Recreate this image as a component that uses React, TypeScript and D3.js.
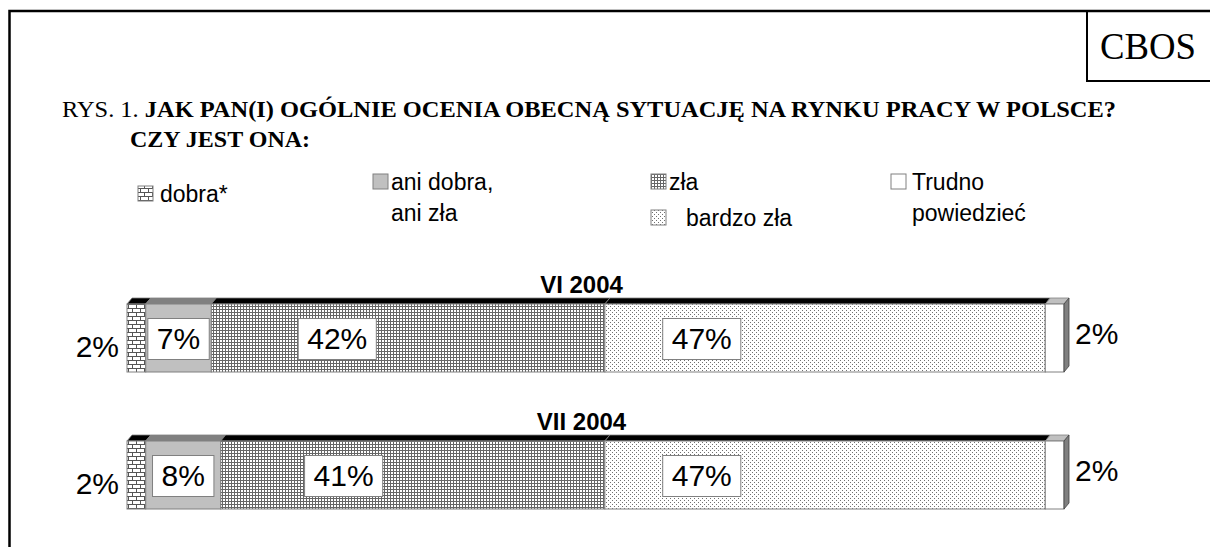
import React from "react";
import * as d3 from "d3";

const periods = ["VI 2004", "VII 2004"];
const categories = ["dobra*", "ani dobra, ani zła", "zła", "bardzo zła", "Trudno powiedzieć"];
const valuesVI = [2, 7, 42, 47, 2];
const valuesVII = [2, 8, 41, 47, 2];
const seriesValues = [valuesVI, valuesVII];
const legendLines = [["dobra*"], ["ani dobra,", "ani zła"], ["zła"], ["bardzo zła"], ["Trudno", "powiedzieć"]];
// where the in-bar label sits inside its segment (fraction of the segment)
const labelFraction = [0, 0.5, 0.32, 0.22, 0];

const fills = ["url(#pBrick)", "#c0c0c0", "url(#pGrid)", "url(#pDots)", "#ffffff"];
const topFills = ["#000000", "#808080", "#000000", "#000000", "#c0c0c0"];

const W = 1210;
const H = 547;
const DX = 5;
const DY = 6;
const BAR_H = 68;

export default function App() {
  const x = d3.scaleLinear().domain([0, 100]).range([127, 1064]);
  const y = d3.scalePoint<string>().domain(periods).range([304, 441]);
  const sans = "'Liberation Sans', Arial, sans-serif";
  const serif = "'Liberation Serif', 'Times New Roman', serif";

  const legendPos = [
    { sx: 138, sy: 186, tx: 160, ty: 202 },
    { sx: 373, sy: 174, tx: 391, ty: 190 },
    { sx: 651, sy: 174, tx: 669, ty: 190 },
    { sx: 651, sy: 210, tx: 686, ty: 226 },
    { sx: 891, sy: 174, tx: 912, ty: 190 },
  ];

  return (
    <svg width={W} height={H} style={{ position: "absolute", left: 0, top: 0, background: "#fff" }}>
      <defs>
        <pattern id="pBrick" width="8" height="8" patternUnits="userSpaceOnUse">
          <rect width="8" height="8" fill="#fff" />
          <path d="M0 0.5H8M0 4.5H8M0.5 0V4.5M4.5 4.5V8" stroke="#555" strokeWidth="1" />
        </pattern>
        <pattern id="pGrid" width="3" height="3" patternUnits="userSpaceOnUse">
          <rect width="3" height="3" fill="#fff" />
          <path d="M0 0.5H3M0.5 0V3" stroke="#666" strokeWidth="1" />
        </pattern>
        <pattern id="pDots" width="4" height="4" patternUnits="userSpaceOnUse">
          <rect width="4" height="4" fill="#fff" />
          <rect x="0" y="0" width="1" height="1" fill="#707070" />
          <rect x="2" y="2" width="1" height="1" fill="#707070" />
        </pattern>
      </defs>

      {/* frame */}
      <path d={`M9.5 ${H} V11 H${W}`} fill="none" stroke="#000" strokeWidth="2.5" />
      <path d={`M1087 11 V81 H${W}`} fill="none" stroke="#000" strokeWidth="2" />
      <text x={1100} y={59} fontFamily={serif} fontSize={38} textLength={96} lengthAdjust="spacingAndGlyphs">CBOS</text>

      {/* title */}
      <text x={62} y={117} fontFamily={serif} fontSize={24} textLength={1054} lengthAdjust="spacingAndGlyphs">
        RYS. 1. <tspan fontWeight="bold">JAK PAN(I) OGÓLNIE OCENIA OBECNĄ SYTUACJĘ NA RYNKU PRACY W POLSCE?</tspan>
      </text>
      <text x={130} y={147} fontFamily={serif} fontSize={24} fontWeight="bold">CZY JEST ONA:</text>

      {/* legend */}
      {legendLines.map((lines, i) => {
        const p = legendPos[i];
        return (
          <g key={categories[i]}>
            <rect x={p.sx} y={p.sy} width={15} height={15} fill={fills[i]} stroke="#808080" strokeWidth={1} />
            {lines.map((ln, j) => (
              <text key={ln} x={p.tx} y={p.ty + j * 31} fontFamily={sans} fontSize={23}>{ln}</text>
            ))}
          </g>
        );
      })}

      {/* bars */}
      {periods.map((per, pi) => {
        const vals = seriesValues[pi];
        const cum = d3.cumsum(vals);
        const top = y(per)!;
        const starts = vals.map((v, i) => cum[i] - v);
        return (
          <g key={per}>
            <text x={(x(0) + x(100)) / 2 - 14} y={top - 11} textAnchor="middle" fontFamily={sans} fontWeight="bold" fontSize={24}>{per}</text>
            {vals.map((v, i) => {
              const x0 = x(starts[i]);
              const x1 = x(cum[i]);
              return (
                <g key={i}>
                  <path
                    d={`M${x0} ${top} L${x0 + DX} ${top - DY} L${x1 + DX} ${top - DY} L${x1} ${top} Z`}
                    fill={topFills[i]}
                    stroke="#808080"
                    strokeWidth={0.8}
                  />
                  <rect x={x0} y={top} width={x1 - x0} height={BAR_H} fill={fills[i]} stroke="#808080" strokeWidth={1} />
                </g>
              );
            })}
            <path
              d={`M${x(100)} ${top} L${x(100) + DX} ${top - DY} L${x(100) + DX} ${top + BAR_H - DY} L${x(100)} ${top + BAR_H} Z`}
              fill="#808080"
              stroke="#404040"
              strokeWidth={0.8}
            />
            {vals.map((v, i) => {
              if (i === 0) {
                return (
                  <text key={"l" + i} x={x(0) - 8} y={top + 53} textAnchor="end" fontFamily={sans} fontSize={30}>{v}%</text>
                );
              }
              if (i === vals.length - 1) {
                return (
                  <text key={"l" + i} x={x(100) + 11} y={top + 40} fontFamily={sans} fontSize={30}>{v}%</text>
                );
              }
              const cx = x(starts[i] + v * labelFraction[i]);
              const tw = String(v).length * 16.7 + 26.7;
              const bw = tw + 18;
              return (
                <g key={"l" + i}>
                  <rect x={cx - bw / 2} y={top + 14.5} width={bw} height={41} fill="#fff" stroke="#808080" strokeWidth={1} />
                  <text x={cx} y={top + 45} textAnchor="middle" fontFamily={sans} fontSize={30}>{v}%</text>
                </g>
              );
            })}
          </g>
        );
      })}
    </svg>
  );
}
